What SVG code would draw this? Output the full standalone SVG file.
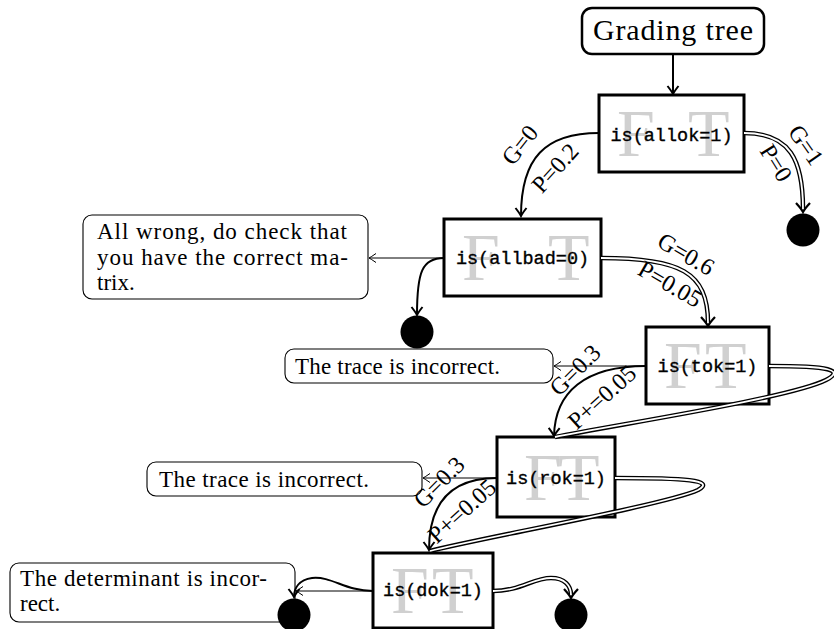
<svg xmlns="http://www.w3.org/2000/svg" width="834" height="629" viewBox="0 0 834 629">
<style>
.box{fill:#fff;stroke:#000;stroke-width:3}
.note{fill:#fff;stroke:#000;stroke-width:1.1}
.start{fill:#fff;stroke:#000;stroke-width:2.5}
.code{font-family:"Liberation Mono","DejaVu Sans Mono",monospace;font-size:18.5px;text-anchor:middle;fill:#000;stroke:#000;stroke-width:0.35}
.ft{font-family:"Liberation Serif","DejaVu Serif",serif;font-size:68px;fill:#d0d0d0}
.txt{font-family:"Liberation Serif","DejaVu Serif",serif;font-size:23px;fill:#000}
.lbl{font-family:"Liberation Serif","DejaVu Serif",serif;font-size:24px;fill:#000;text-anchor:middle;dominant-baseline:central}
.thin{fill:none;stroke:#000;stroke-width:1}
.thick{fill:none;stroke:#000;stroke-width:2}
.dblo{fill:none;stroke:#000;stroke-width:4.5}
.dbli{fill:none;stroke:#fff;stroke-width:1.8}
.end{fill:#000}
</style>
<defs>
<marker id="aT" markerUnits="userSpaceOnUse" markerWidth="14" markerHeight="14" viewBox="-10 -7 14 14" refX="0" refY="0" orient="auto">
<path d="M-7,-4.5 Q-2,-1 0,0 Q-2,1 -7,4.5" fill="none" stroke="#000" stroke-width="1"/>
</marker>
<marker id="aK" markerUnits="userSpaceOnUse" markerWidth="16" markerHeight="16" viewBox="-12 -8 16 16" refX="0" refY="0" orient="auto">
<path d="M-8,-5.5 Q-2.5,-1.2 0,0 Q-2.5,1.2 -8,5.5" fill="none" stroke="#000" stroke-width="2"/>
</marker>
<marker id="aD" markerUnits="userSpaceOnUse" markerWidth="20" markerHeight="20" viewBox="-14 -10 20 20" refX="-3" refY="0" orient="auto">
<path d="M-9,-7 Q-3,-1.5 0,0 Q-3,1.5 -9,7" fill="none" stroke="#000" stroke-width="2.2"/>
</marker>
</defs>

<g id="start">
<rect class="start" x="582" y="8" width="182" height="46" rx="10"/>
<text x="673" y="40" font-family="Liberation Serif, DejaVu Serif, serif" font-size="30" text-anchor="middle" textLength="160">Grading tree</text>
</g>

<g id="n-allok">
<rect class="box" x="599" y="95" width="145" height="77"/>
<text class="ft" x="617" y="156">F</text>
<text class="ft" x="688" y="156">T</text>
<text class="code" x="671.5" y="141">is(allok=1)</text>
</g>

<g id="n-allbad">
<rect class="box" x="444" y="219" width="157" height="77"/>
<text class="ft" x="462" y="280">F</text>
<text class="ft" x="548" y="280">T</text>
<text class="code" x="522.5" y="264">is(allbad=0)</text>
</g>

<g id="n-tok">
<rect class="box" x="646" y="327" width="123" height="77"/>
<text class="ft" x="664" y="388">F</text>
<text class="ft" x="705" y="388">T</text>
<text class="code" x="707.5" y="372">is(tok=1)</text>
</g>

<g id="n-rok">
<rect class="box" x="497" y="437" width="118" height="80"/>
<text class="ft" x="524" y="500">F</text>
<text class="ft" x="558" y="500">T</text>
<text class="code" x="556" y="484">is(rok=1)</text>
</g>

<g id="n-dok">
<rect class="box" x="373" y="553" width="120" height="75"/>
<text class="ft" x="391" y="613">F</text>
<text class="ft" x="432" y="613">T</text>
<text class="code" x="433" y="596">is(dok=1)</text>
</g>

<g id="note-allbad">
<rect class="note" x="83" y="215" width="285" height="84" rx="9"/>
<text class="txt" x="97" y="239" textLength="250">All wrong, do check that</text>
<text class="txt" x="97" y="265" textLength="251">you have the correct ma-</text>
<text class="txt" x="97" y="290">trix.</text>
</g>

<g id="note-tok">
<rect class="note" x="285" y="349" width="268" height="34" rx="9"/>
<text class="txt" x="295" y="374" textLength="205">The trace is incorrect.</text>
</g>

<g id="note-rok">
<rect class="note" x="147" y="462" width="275" height="34" rx="9"/>
<text class="txt" x="159" y="487" textLength="210">The trace is incorrect.</text>
</g>

<g id="note-dok">
<rect class="note" x="10" y="563" width="285" height="59" rx="9"/>
<text class="txt" x="20" y="586" textLength="247">The determinant is incor-</text>
<text class="txt" x="20" y="611">rect.</text>
</g>

<g id="end-allok-t"><circle class="end" cx="803" cy="230" r="16.5"/></g>
<g id="end-allbad-f"><circle class="end" cx="417" cy="332" r="16.5"/></g>
<g id="end-dok-f"><circle class="end" cx="294" cy="615" r="16.5"/></g>
<g id="end-dok-t"><circle class="end" cx="571" cy="615" r="16.5"/></g>

<g id="connectors">
<path class="thick" d="M673,54 L673,94" marker-end="url(#aK)"/>
<path class="thick" d="M599,133 C545,133 521,158 521,216" marker-end="url(#aK)"/>
<path class="dblo" d="M744,133 C790,133 803,160 803,209" marker-end="url(#aD)"/>
<path class="dbli" d="M744,133 C790,133 803,160 803,209"/>
<path class="thin" d="M444,258 L369,258" marker-end="url(#aT)"/>
<path class="thick" d="M444,258 C422,258 417,272 417,315" marker-end="url(#aK)"/>
<path class="dblo" d="M601,258 C680,258 708,272 708,323" marker-end="url(#aD)"/>
<path class="dbli" d="M601,258 C680,258 708,272 708,323"/>
<path class="thin" d="M646,366 L554,366" marker-end="url(#aT)"/>
<path class="thick" d="M646,366 C585,366 555,392 554,436" marker-end="url(#aK)"/>
<path class="dblo" d="M769,366 C830,366 845,370 826,380 C790,398 620,424 555,437"/>
<path class="dbli" d="M769,366 C830,366 845,370 826,380 C790,398 620,424 555,437"/>
<path class="thin" d="M497,478 L423,478" marker-end="url(#aT)"/>
<path class="thick" d="M497,478 C452,478 429,502 429,550" marker-end="url(#aK)"/>
<path class="dblo" d="M615,478 C685,478 716,480 698,490 C665,505 480,538 430,551"/>
<path class="dbli" d="M615,478 C685,478 716,480 698,490 C665,505 480,538 430,551"/>
<path class="thin" d="M373,591 L296,591" marker-end="url(#aT)"/>
<path class="thick" d="M373,591 C345,591 332,576 312,578 C299,580 294,588 294,597" marker-end="url(#aK)"/>
<path class="dblo" d="M493,591 C520,591 533,578 551,578 C565,578 571,586 571,595" marker-end="url(#aD)"/>
<path class="dbli" d="M493,591 C520,591 533,578 551,578 C565,578 571,586 571,595"/>
</g>

<g id="labels">
<text class="lbl" transform="translate(520,145) rotate(-52)">G=0</text>
<text class="lbl" transform="translate(555,168) rotate(-48)">P=0.2</text>
<text class="lbl" transform="translate(806,145) rotate(55)">G=1</text>
<text class="lbl" transform="translate(776,163) rotate(58)">P=0</text>
<text class="lbl" transform="translate(686,254) rotate(30)">G=0.6</text>
<text class="lbl" transform="translate(670,284) rotate(30)">P=0.05</text>
<text class="lbl" transform="translate(575,370) rotate(-45)">G=0.3</text>
<text class="lbl" transform="translate(602,397) rotate(-42)">P+=0.05</text>
<text class="lbl" transform="translate(439,482) rotate(-45)">G=0.3</text>
<text class="lbl" transform="translate(462,511) rotate(-42)">P+=0.05</text>
</g>
</svg>
